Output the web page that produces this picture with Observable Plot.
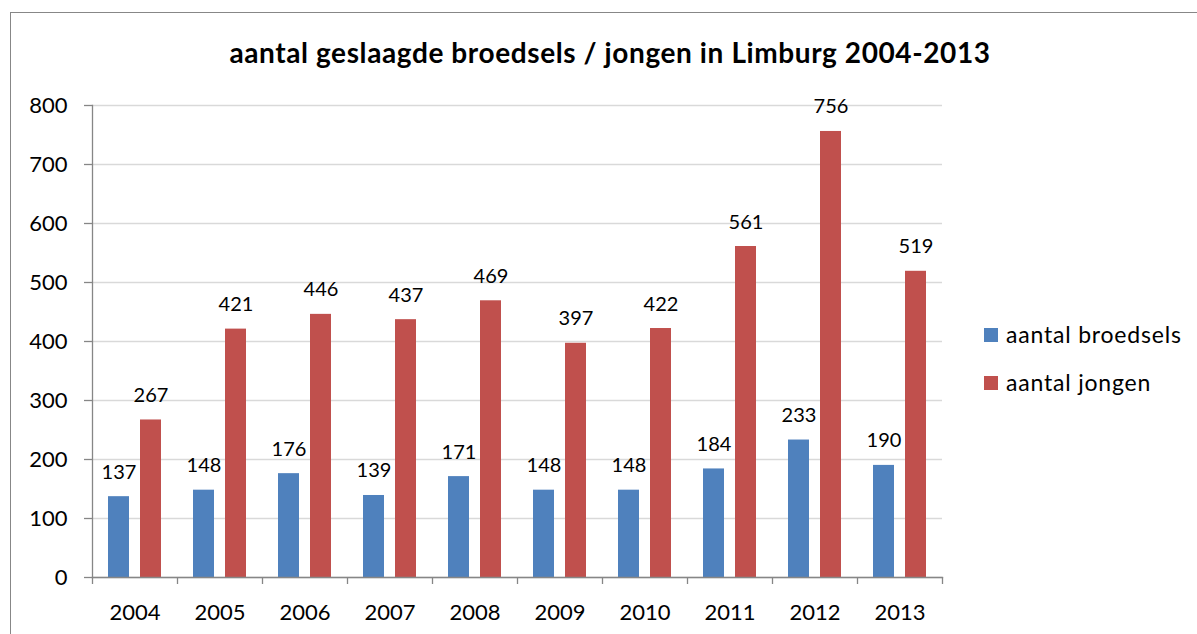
<!DOCTYPE html>
<html>
<head>
<meta charset="utf-8">
<script src="https://cdn.jsdelivr.net/npm/d3@7"></script>
<script src="https://cdn.jsdelivr.net/npm/@observablehq/plot@0.6"></script>
<style>
  html, body { margin: 0; padding: 0; background: #fff; }
  #wrap { position: relative; width: 1197px; height: 634px; overflow: hidden; font-family: Lato, "Open Sans", sans-serif; }
  #border { position: absolute; left: 10px; top: 12px; width: 1300px; height: 700px; border-left: 1px solid #878787; border-top: 1px solid #878787; }
  #chart { position: absolute; left: 0; top: 0; }
  #overlay { position: absolute; left: 0; top: 0; }
</style>
</head>
<body>
<div id="wrap">
  <div id="border"></div>
  <div id="chart"></div>
  <svg id="overlay" width="1197" height="634"></svg>
</div>
<script>
const title = "aantal geslaagde broedsels / jongen in Limburg 2004-2013";
const years = ["2004","2005","2006","2007","2008","2009","2010","2011","2012","2013"];
const broedsels = [137,148,176,139,171,148,148,184,233,190];
const jongen = [267,421,446,437,469,397,422,561,756,519];
const seriesNames = ["aantal broedsels", "aantal jongen"];
const seriesColors = ["#4F81BD", "#C0504D"];
const yTicks = [0,100,200,300,400,500,600,700,800];

const dataB = years.map((y, i) => ({year: y, value: broedsels[i]}));
const dataJ = years.map((y, i) => ({year: y, value: jongen[i]}));

const W = 1197, H = 634;
const mL = 92, mR = 255, mT = 105, mB = 57;
const band = (W - mL - mR) / years.length;   // 85
const barW = 21, off = 16;
const inset = (band - barW) / 2;

const font = "Lato, 'Open Sans', sans-serif";

const plot = Plot.plot({
  width: W, height: H,
  marginLeft: mL, marginRight: mR, marginTop: mT, marginBottom: mB,
  style: {fontFamily: font, fontSize: "21px", color: "#000", background: "transparent", overflow: "visible"},
  x: {domain: years, padding: 0, axis: null},
  y: {domain: [0, 800], axis: null},
  marks: [
    Plot.gridY(yTicks, {stroke: "#d9d9d9", strokeOpacity: 1, strokeWidth: 1.3}),
    Plot.barY(dataB, {x: "year", y: "value", fill: seriesColors[0], insetLeft: inset, insetRight: inset, dx: -off}),
    Plot.barY(dataJ, {x: "year", y: "value", fill: seriesColors[1], insetLeft: inset, insetRight: inset, dx: off}),
    Plot.text(dataB, {x: "year", y: "value", text: d => String(d.value), dx: -off, dy: -18, lineAnchor: "bottom", fontSize: 20, fill: "#000"}),
    Plot.text(dataJ, {x: "year", y: "value", text: d => String(d.value), dx: off, dy: -18, lineAnchor: "bottom", fontSize: 20, fill: "#000"}),
    Plot.frame({anchor: "left", stroke: "#868686", strokeWidth: 1.3}),
    Plot.frame({anchor: "bottom", stroke: "#868686", strokeWidth: 1.3}),
    Plot.axisY({ticks: yTicks, tickSize: 8, tickPadding: 17, stroke: "#868686", strokeWidth: 1.3, fontSize: 22, fill: "#000", label: null}),
    Plot.axisX({ticks: years, tickSize: 7, tickFormat: () => "", dx: -band / 2, stroke: "#868686", strokeWidth: 1.3, label: null}),
    Plot.axisX({ticks: [years[years.length - 1]], tickSize: 7, tickFormat: () => "", dx: band / 2, stroke: "#868686", strokeWidth: 1.3, label: null}),
    Plot.axisX({ticks: years, tickSize: 0, tickPadding: 27, fontSize: 22, fill: "#000", label: null})
  ]
});
document.getElementById("chart").appendChild(plot);

// Title and legend overlay
const ov = d3.select("#overlay");
ov.append("text")
  .attr("x", 610).attr("y", 63)
  .attr("text-anchor", "middle")
  .attr("font-family", font).attr("font-weight", "bold").attr("font-size", 28)
  .attr("letter-spacing", "0.6px")
  .attr("fill", "#000")
  .text(title);

const lg = ov.selectAll("g.lg").data(seriesNames).join("g").attr("class", "lg")
  .attr("transform", (d, i) => `translate(984, ${328 + i * 48})`);
lg.append("rect").attr("width", 14).attr("height", 14).attr("fill", (d, i) => seriesColors[i]);
lg.append("text").attr("x", 22).attr("y", 15)
  .attr("font-family", font).attr("font-size", 23).attr("letter-spacing", "0.8px").attr("fill", "#000")
  .text(d => d);
</script>
</body>
</html>
